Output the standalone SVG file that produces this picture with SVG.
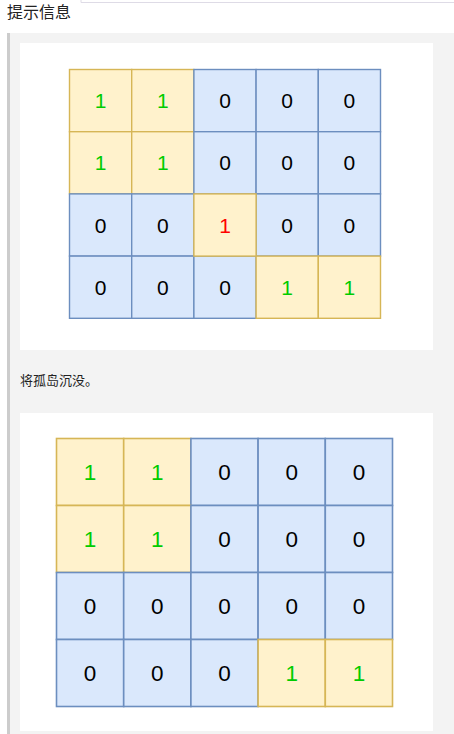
<svg xmlns="http://www.w3.org/2000/svg" width="454" height="734" viewBox="0 0 454 734">
<style>
.y{fill:#fff2cc;stroke:#d6b656}
.b{fill:#dae8fc;stroke:#6c8ebf}
.g1 rect{stroke-width:1.4}
.g2 rect{stroke-width:1.6}
.t{font-family:"Liberation Sans",Arial,sans-serif;text-anchor:middle;dominant-baseline:central;fill:#000}
.g1 .t{font-size:21px}
.g2 .t{font-size:22.5px}
.one{fill:#00cc00}
.red{fill:#ff0000}
.cj{font-family:"Noto Sans CJK SC","Noto Sans",sans-serif;fill:#222}
</style>
<rect width="454" height="734" fill="#ffffff"/>
<path d="M81 0 V2.5 H454" fill="none" stroke="#dedbe6" stroke-width="1"/>
<text class="cj" x="7" y="18" font-size="16">提示信息</text>
<rect x="10" y="33" width="444" height="701" fill="#f3f3f3"/>
<rect x="7" y="33" width="3" height="701" fill="#cccccc"/>
<rect x="20" y="43" width="413" height="307" fill="#ffffff"/>
<text class="cj" x="20" y="385" font-size="13">将孤岛沉没。</text>
<rect x="20" y="413" width="413" height="318" fill="#ffffff"/>

<g id="grid1" class="g1">
<g id="g1-r0c0"><rect class="y" x="69.5" y="69.5" width="62.2" height="62.2"/><text class="t one" x="100.6" y="100.6">1</text></g>
<g id="g1-r0c1"><rect class="y" x="131.7" y="69.5" width="62.2" height="62.2"/><text class="t one" x="162.8" y="100.6">1</text></g>
<g id="g1-r0c2"><rect class="b" x="193.9" y="69.5" width="62.2" height="62.2"/><text class="t" x="225" y="100.6">0</text></g>
<g id="g1-r0c3"><rect class="b" x="256.1" y="69.5" width="62.2" height="62.2"/><text class="t" x="287.2" y="100.6">0</text></g>
<g id="g1-r0c4"><rect class="b" x="318.3" y="69.5" width="62.2" height="62.2"/><text class="t" x="349.4" y="100.6">0</text></g>

<g id="g1-r1c0"><rect class="y" x="69.5" y="131.7" width="62.2" height="62.2"/><text class="t one" x="100.6" y="162.8">1</text></g>
<g id="g1-r1c1"><rect class="y" x="131.7" y="131.7" width="62.2" height="62.2"/><text class="t one" x="162.8" y="162.8">1</text></g>
<g id="g1-r1c2"><rect class="b" x="193.9" y="131.7" width="62.2" height="62.2"/><text class="t" x="225" y="162.8">0</text></g>
<g id="g1-r1c3"><rect class="b" x="256.1" y="131.7" width="62.2" height="62.2"/><text class="t" x="287.2" y="162.8">0</text></g>
<g id="g1-r1c4"><rect class="b" x="318.3" y="131.7" width="62.2" height="62.2"/><text class="t" x="349.4" y="162.8">0</text></g>

<g id="g1-r2c0"><rect class="b" x="69.5" y="193.9" width="62.2" height="62.2"/><text class="t" x="100.6" y="225">0</text></g>
<g id="g1-r2c1"><rect class="b" x="131.7" y="193.9" width="62.2" height="62.2"/><text class="t" x="162.8" y="225">0</text></g>
<g id="g1-r2c3"><rect class="b" x="256.1" y="193.9" width="62.2" height="62.2"/><text class="t" x="287.2" y="225">0</text></g>
<g id="g1-r2c4"><rect class="b" x="318.3" y="193.9" width="62.2" height="62.2"/><text class="t" x="349.4" y="225">0</text></g>

<g id="g1-r3c0"><rect class="b" x="69.5" y="256.1" width="62.2" height="62.2"/><text class="t" x="100.6" y="287.2">0</text></g>
<g id="g1-r3c1"><rect class="b" x="131.7" y="256.1" width="62.2" height="62.2"/><text class="t" x="162.8" y="287.2">0</text></g>
<g id="g1-r3c2"><rect class="b" x="193.9" y="256.1" width="62.2" height="62.2"/><text class="t" x="225" y="287.2">0</text></g>
<g id="g1-r3c3"><rect class="y" x="256.1" y="256.1" width="62.2" height="62.2"/><text class="t one" x="287.2" y="287.2">1</text></g>
<g id="g1-r3c4"><rect class="y" x="318.3" y="256.1" width="62.2" height="62.2"/><text class="t one" x="349.4" y="287.2">1</text></g>
<g id="g1-r2c2"><rect class="y" x="193.9" y="193.9" width="62.2" height="62.2"/><text class="t red" x="225" y="225">1</text></g>
</g>

<g id="grid2" class="g2">
<g id="g2-r0c0"><rect class="y" x="56.5" y="438.5" width="67.2" height="67"/><text class="t one" x="90.1" y="472">1</text></g>
<g id="g2-r0c1"><rect class="y" x="123.7" y="438.5" width="67.2" height="67"/><text class="t one" x="157.3" y="472">1</text></g>
<g id="g2-r0c2"><rect class="b" x="190.9" y="438.5" width="67.2" height="67"/><text class="t" x="224.5" y="472">0</text></g>
<g id="g2-r0c3"><rect class="b" x="258.1" y="438.5" width="67.2" height="67"/><text class="t" x="291.7" y="472">0</text></g>
<g id="g2-r0c4"><rect class="b" x="325.3" y="438.5" width="67.2" height="67"/><text class="t" x="358.9" y="472">0</text></g>

<g id="g2-r1c0"><rect class="y" x="56.5" y="505.5" width="67.2" height="67"/><text class="t one" x="90.1" y="539">1</text></g>
<g id="g2-r1c1"><rect class="y" x="123.7" y="505.5" width="67.2" height="67"/><text class="t one" x="157.3" y="539">1</text></g>
<g id="g2-r1c2"><rect class="b" x="190.9" y="505.5" width="67.2" height="67"/><text class="t" x="224.5" y="539">0</text></g>
<g id="g2-r1c3"><rect class="b" x="258.1" y="505.5" width="67.2" height="67"/><text class="t" x="291.7" y="539">0</text></g>
<g id="g2-r1c4"><rect class="b" x="325.3" y="505.5" width="67.2" height="67"/><text class="t" x="358.9" y="539">0</text></g>

<g id="g2-r2c0"><rect class="b" x="56.5" y="572.5" width="67.2" height="67"/><text class="t" x="90.1" y="606">0</text></g>
<g id="g2-r2c1"><rect class="b" x="123.7" y="572.5" width="67.2" height="67"/><text class="t" x="157.3" y="606">0</text></g>
<g id="g2-r2c2"><rect class="b" x="190.9" y="572.5" width="67.2" height="67"/><text class="t" x="224.5" y="606">0</text></g>
<g id="g2-r2c3"><rect class="b" x="258.1" y="572.5" width="67.2" height="67"/><text class="t" x="291.7" y="606">0</text></g>
<g id="g2-r2c4"><rect class="b" x="325.3" y="572.5" width="67.2" height="67"/><text class="t" x="358.9" y="606">0</text></g>

<g id="g2-r3c0"><rect class="b" x="56.5" y="639.5" width="67.2" height="67"/><text class="t" x="90.1" y="673">0</text></g>
<g id="g2-r3c1"><rect class="b" x="123.7" y="639.5" width="67.2" height="67"/><text class="t" x="157.3" y="673">0</text></g>
<g id="g2-r3c2"><rect class="b" x="190.9" y="639.5" width="67.2" height="67"/><text class="t" x="224.5" y="673">0</text></g>
<g id="g2-r3c3"><rect class="y" x="258.1" y="639.5" width="67.2" height="67"/><text class="t one" x="291.7" y="673">1</text></g>
<g id="g2-r3c4"><rect class="y" x="325.3" y="639.5" width="67.2" height="67"/><text class="t one" x="358.9" y="673">1</text></g>
</g>
<g id="connectors"/>
</svg>
